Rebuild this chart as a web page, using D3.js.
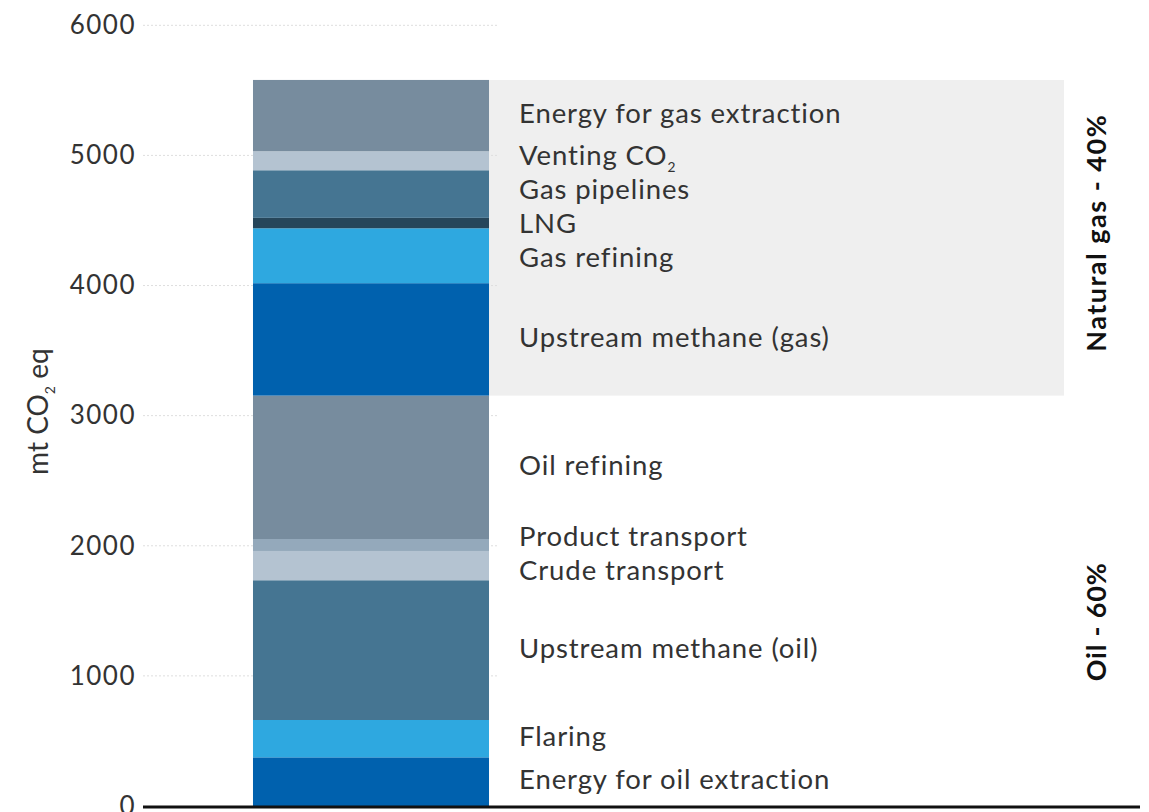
<!DOCTYPE html>
<html>
<head>
<meta charset="utf-8">
<script src="https://cdn.jsdelivr.net/npm/d3@7"></script>
<style>
  html, body { margin: 0; padding: 0; background: #fff; }
  svg { display: block; font-family: Lato, "Open Sans", sans-serif; }
</style>
</head>
<body>
<svg id="chart" width="1149" height="812"></svg>
<script>
// Emission sources, stacked bottom to top (mt CO2 eq)
const categories = [
  "Energy for oil extraction", "Flaring", "Upstream methane (oil)",
  "Crude transport", "Product transport", "Oil refining",
  "Upstream methane (gas)", "Gas refining", "LNG",
  "Gas pipelines", "Venting CO2", "Energy for gas extraction"
];
const values = [374, 287, 1074, 225, 92, 1102, 864, 422, 80, 366, 146, 548];
const fuel = ["oil", "oil", "oil", "oil", "oil", "oil", "gas", "gas", "gas", "gas", "gas", "gas"];
const segmentColors = [
  "#0061ae", "#2ea8e0", "#457592", "#b4c3d1", "#94a9bb", "#778c9e",
  "#0061ae", "#2ea8e0", "#26465a", "#457592", "#b4c3d1", "#778c9e"
];
const groupKeys = ["oil", "gas"];
const groupLabels = ["Oil - 60%", "Natural gas - 40%"];
const yTicks = [0, 1000, 2000, 3000, 4000, 5000, 6000];
const barName = ["Emissions"];

const svg = d3.select("#chart");
const plotLeft = 143, plotRight = 1140;
const textColor = "#333";

const y = d3.scaleLinear().domain([0, 6000]).range([806, 25.3]);
const x = d3.scaleBand().domain(barName).range([plotLeft, 599]).paddingInner(0).paddingOuter(0.466);

// cumulative extents of each segment
const ends = d3.cumsum(values);
const segs = categories.map((c, i) => ({
  name: c, value: values[i], fuel: fuel[i], color: segmentColors[i],
  y0: ends[i] - values[i], y1: ends[i]
}));

const barX = x(barName[0]), barW = x.bandwidth();
const labelX = barX + barW + 30;

// shaded panel behind the natural gas block
const gasSegs = segs.filter(s => s.fuel === "gas");
const gasLo = d3.min(gasSegs, s => s.y0), gasHi = d3.max(gasSegs, s => s.y1);
svg.append("rect")
  .attr("x", barX + barW - 1)
  .attr("y", y(gasHi))
  .attr("width", 1064 - (barX + barW - 1))
  .attr("height", y(gasLo) - y(gasHi))
  .attr("fill", "#efefef");

// dotted gridlines
svg.append("g").selectAll("line").data(yTicks.filter(t => t > 0)).join("line")
  .attr("x1", plotLeft).attr("x2", barX + barW + 8)
  .attr("y1", d => y(d)).attr("y2", d => y(d))
  .attr("stroke", "#dedede").attr("stroke-width", 1)
  .attr("stroke-dasharray", "2,2");

// y axis tick labels
const yAxis = d3.axisLeft(y).tickValues(yTicks).tickSize(0).tickPadding(7).tickFormat(d3.format("d"));
const gy = svg.append("g").attr("transform", `translate(${plotLeft},0)`).call(yAxis);
gy.select(".domain").remove();
gy.selectAll("text")
  .attr("fill", textColor)
  .style("font-family", "Lato, sans-serif")
  .style("font-size", "26px")
  .style("letter-spacing", "1.5px");

// stacked bar
svg.append("g").selectAll("rect").data(segs).join("rect")
  .attr("x", barX).attr("width", barW)
  .attr("y", d => y(d.y1))
  .attr("height", d => y(d.y0) - y(d.y1))
  .attr("fill", d => d.color);

// baseline
svg.append("line")
  .attr("x1", plotLeft).attr("x2", plotRight)
  .attr("y1", y(0) + 1).attr("y2", y(0) + 1)
  .attr("stroke", "#111").attr("stroke-width", 3);

// segment labels: centred on their segment, nudged apart where crowded
const minGap = 34;
const pos = segs.map(s => (y(s.y0) + y(s.y1)) / 2);
for (let it = 0; it < 200; it++) {
  for (let i = 0; i < pos.length - 1; i++) {
    const gap = pos[i] - pos[i + 1];
    if (gap < minGap) {
      const push = (minGap - gap) / 2;
      pos[i] += push; pos[i + 1] -= push;
    }
  }
}

// writes text with the "2" of CO2 as a subscript
function writeChem(sel, txt) {
  const parts = txt.split("CO2");
  sel.text(null);
  let lowered = false;
  parts.forEach((p, k) => {
    if (p.length) {
      const t = sel.append("tspan").text(p);
      if (lowered) t.attr("dy", "-0.25em");
      lowered = false;
    }
    if (k < parts.length - 1) {
      sel.append("tspan").text("CO");
      sel.append("tspan").text("2").attr("dy", "0.5em").style("font-size", "0.5em");
      lowered = true;
    }
  });
}

svg.append("g").selectAll("text").data(segs).join("text")
  .attr("x", labelX)
  .attr("y", (d, i) => pos[i] - 2)
  .attr("dy", "0.35em")
  .attr("fill", textColor)
  .style("font-size", "27.5px")
  .style("letter-spacing", "0.9px")
  .each(function (d) { writeChem(d3.select(this), d.name); });

// group labels on the right
groupKeys.forEach((g, i) => {
  const ss = segs.filter(s => s.fuel === g);
  const lo = d3.min(ss, s => s.y0), hi = d3.max(ss, s => s.y1);
  const cy = (y(lo) + y(hi)) / 2 + (g === "oil" ? 21 : -5);
  svg.append("text")
    .attr("transform", `translate(1097,${cy}) rotate(-90)`)
    .attr("text-anchor", "middle")
    .attr("dy", "0.35em")
    .attr("fill", "#111")
    .style("font-size", "27px")
    .style("font-weight", "700")
    .style("letter-spacing", g === "oil" ? "0.8px" : "1.5px")
    .text(groupLabels[i]);
});

// y axis title
const title = svg.append("text")
  .attr("transform", `translate(38,${y(3000) - 4}) rotate(-90)`)
  .attr("text-anchor", "middle")
  .attr("dy", "0.35em")
  .attr("fill", textColor)
  .style("font-size", "28px");
writeChem(title, "mt CO2 eq");
</script>
</body>
</html>
